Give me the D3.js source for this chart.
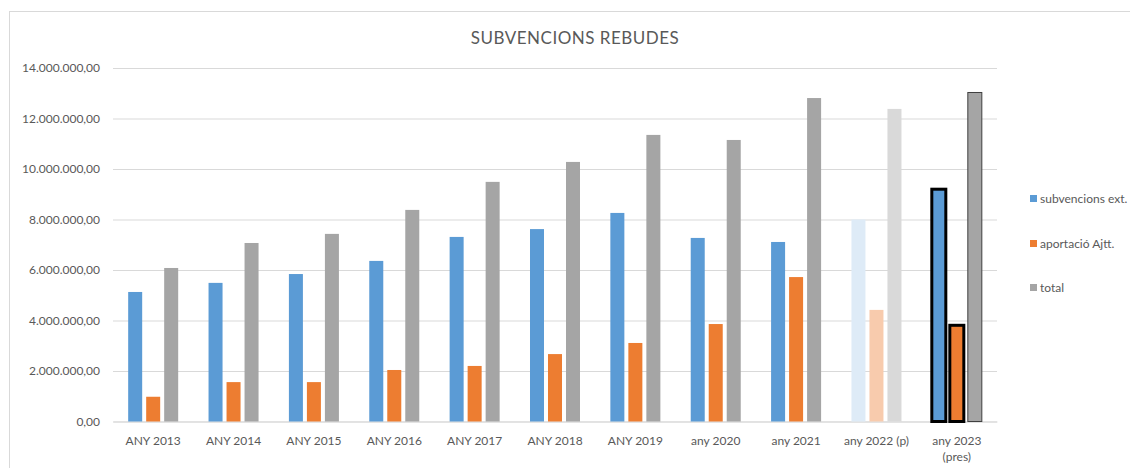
<!DOCTYPE html>
<html>
<head>
<meta charset="utf-8">
<script src="https://cdn.jsdelivr.net/npm/d3@7"></script>
<style>
  body { margin: 0; background: #fff; }
  text { font-family: Lato, "Noto Sans", sans-serif; fill: #595959; }
</style>
</head>
<body>
<div id="container"></div>
<script>
// Data ---------- ---------- ----------
let years = ["ANY 2013", "ANY 2014", "ANY 2015", "ANY 2016", "ANY 2017", "ANY 2018", "ANY 2019", "any 2020", "any 2021", "any 2022 (p)", "any 2023|(pres)"];
let series = ["subvencions ext.", "aportació Ajtt.", "total"];
let subvencions = [5130000, 5490000, 5840000, 6360000, 7310000, 7620000, 8260000, 7270000, 7110000, 8000000, 9200000];
let aportacio = [980000, 1560000, 1560000, 2040000, 2200000, 2670000, 3110000, 3860000, 5720000, 4420000, 3810000];
let total = [6080000, 7070000, 7430000, 8380000, 9490000, 10280000, 11350000, 11150000, 12810000, 12380000, 13030000];
let yTicks = [0, 2000000, 4000000, 6000000, 8000000, 10000000, 12000000, 14000000];

// Hard code values ---------- ---------- ----------
let canvasW = 1130, canvasH = 468;
let plotL = 113, plotR = 997, plotT = 68, plotB = 421.5;
let colors = ["#5b9bd5", "#ed7d31", "#a5a5a5"];
let faded = ["#deebf7", "#f8cbad", "#d9d9d9"];
let fmt = v => d3.format(",.2f")(v).replace(/,/g, "#").replace(".", ",").replace(/#/g, ".");

let svg = d3.select("#container").append("svg").attr("width", canvasW).attr("height", canvasH);

// Outer chart border
svg.append("rect").attr("x", 9.5).attr("y", 11.5).attr("width", 1200).attr("height", 600)
    .attr("fill", "none").attr("stroke", "#d9d9d9");

// Title
svg.append("text").attr("x", 575).attr("y", 44).attr("text-anchor", "middle")
    .style("font-size", "17px").style("letter-spacing", "0.5px").text("SUBVENCIONS REBUDES");

// Scales
let x0 = d3.scaleBand().domain(years).range([plotL, plotR]);
let x1 = d3.scaleBand().domain(series).range([0, x0.bandwidth()]).paddingInner(0.222).paddingOuter(0.843);
let y = d3.scaleLinear().domain([0, 14000000]).range([plotB, plotT]);

// Gridlines + y labels
let yAxis = svg.append("g").attr("transform", "translate(" + plotL + ",0)")
    .call(d3.axisLeft(y).tickValues(yTicks).tickSize(-(plotR - plotL)).tickPadding(13).tickFormat(fmt));
yAxis.select(".domain").remove();
yAxis.selectAll(".tick line").attr("stroke", "#d9d9d9");
yAxis.selectAll(".tick text").style("font-size", "12px").style("font-family", "Lato, 'Noto Sans', sans-serif").attr("fill", "#595959");

// X axis labels
let xAxis = svg.append("g").attr("transform", "translate(0," + plotB + ")")
    .call(d3.axisBottom(x0).tickSize(0).tickFormat(""));
xAxis.select(".domain").attr("stroke", "#d9d9d9");
xAxis.selectAll(".tick").each(function(d) {
    let lines = d.split("|");
    let t = d3.select(this).append("text").attr("text-anchor", "middle").style("font-size", "12px").attr("fill", "#595959");
    lines.forEach((l, i) => t.append("tspan").attr("x", 0).attr("y", 23 + i * 16).text(l));
});

// Bars
let rows = years.map((yr, i) => ({ year: yr, i: i, vals: [subvencions[i], aportacio[i], total[i]] }));
let groups = svg.selectAll(".grp").data(rows).enter().append("g")
    .attr("transform", d => "translate(" + x0(d.year) + ",0)");
groups.selectAll("rect").data(d => d.vals.map((v, k) => ({ v: v, k: k, i: d.i }))).enter().append("rect")
    .attr("x", d => x1(series[d.k])).attr("width", x1.bandwidth())
    .attr("y", d => y(d.v)).attr("height", d => plotB - y(d.v))
    .attr("fill", d => d.i === 9 ? faded[d.k] : colors[d.k])
    .attr("stroke", d => d.i === 10 ? (d.k === 2 ? "#404040" : "#000") : "none")
    .attr("stroke-width", d => d.i === 10 ? (d.k === 2 ? 1 : 3) : 0);

// Legend
let legend = svg.selectAll(".legend").data(series).enter().append("g")
    .attr("transform", (d, i) => "translate(1030," + [199, 244, 288][i] + ")");
legend.append("rect").attr("x", 0).attr("y", -4).attr("width", 7).attr("height", 7).attr("fill", (d, i) => colors[i]);
legend.append("text").attr("x", 10).attr("y", 4).style("font-size", "12px").text(d => d);
</script>
</body>
</html>
